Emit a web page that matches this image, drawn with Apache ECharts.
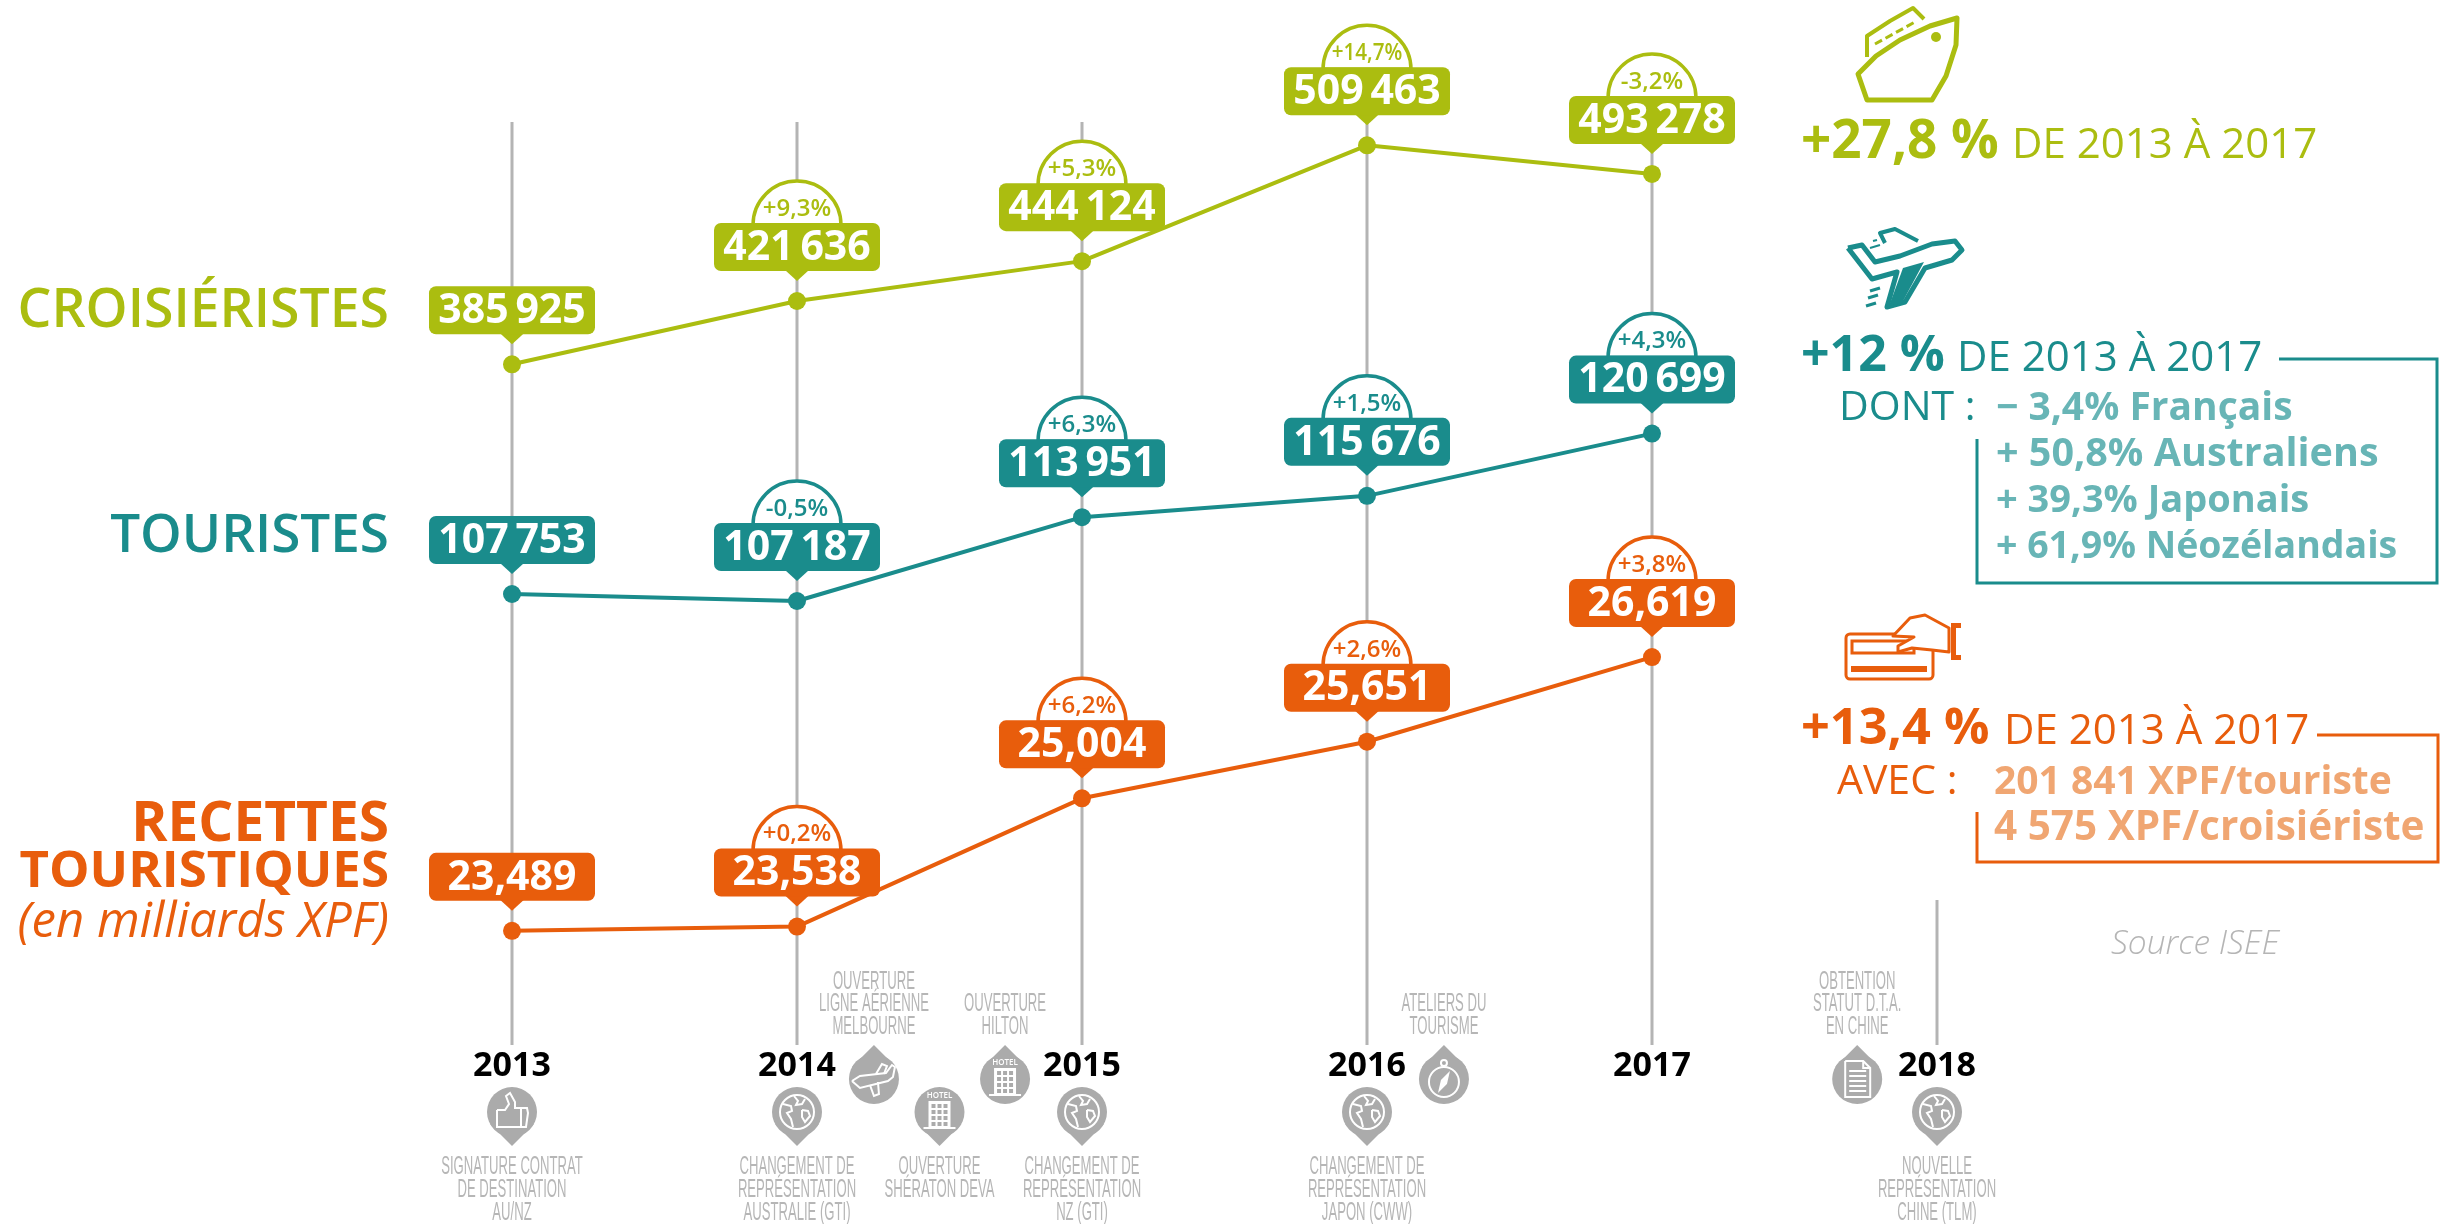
<!DOCTYPE html>
<html>
<head>
<meta charset="utf-8">
<title>Tourisme 2013-2017</title>
<script src="https://cdn.jsdelivr.net/npm/echarts@6/dist/echarts.min.js"></script>
<style>
  html, body { margin: 0; padding: 0; background: #fff; }
  #chart { width: 2443px; height: 1224px; }
</style>
</head>
<body>
<div id="chart"></div>
<script>
var years = ['2013', '2014', '2015', '2016', '2017', '2018'];

var cruiseValues = [385925, 421636, 444124, 509463, 493278];
var touristValues = [107753, 107187, 113951, 115676, 120699];
var revenueValues = [23.489, 23.538, 25.004, 25.651, 26.619];

var cruiseGrowth = [null, '+9,3%', '+5,3%', '+14,7%', '-3,2%'];
var touristGrowth = [null, '-0,5%', '+6,3%', '+1,5%', '+4,3%'];
var revenueGrowth = [null, '+0,2%', '+6,2%', '+2,6%', '+3,8%'];

var eventYears = [2013, 2014, 2014.27, 2014.5, 2014.73, 2015, 2016, 2016.27, 2017.72, 2018];
var eventTexts = [
  ['SIGNATURE CONTRAT', 'DE DESTINATION', 'AU/NZ'],
  ['CHANGEMENT DE', 'REPRÉSENTATION', 'AUSTRALIE (GTI)'],
  ['OUVERTURE', 'LIGNE AÉRIENNE', 'MELBOURNE'],
  ['OUVERTURE', 'SHÉRATON DEVA'],
  ['OUVERTURE', 'HILTON'],
  ['CHANGEMENT DE', 'REPRÉSENTATION', 'NZ (GTI)'],
  ['CHANGEMENT DE', 'REPRÉSENTATION', 'JAPON (CWW)'],
  ['ATELIERS DU', 'TOURISME'],
  ['OBTENTION', 'STATUT D.T.A.', 'EN CHINE'],
  ['NOUVELLE', 'REPRÉSENTATION', 'CHINE (TLM)']
];
var eventSides = ['below', 'below', 'above', 'below', 'above', 'below', 'below', 'above', 'above', 'below'];
var eventIcons = ['thumb', 'globe', 'plane', 'hotel', 'hotel', 'globe', 'globe', 'compass', 'doc', 'globe'];

var OLIVE = '#abbd10';
var TEAL = '#1a8c8c';
var ORANGE = '#e85d0c';
var LIGHT_TEAL = '#68b5b6';
var LIGHT_ORANGE = '#f0a672';
var SPINE = '#b4b4b4';
var PIN = '#ababab';
var PIN_TEXT = '#b6b6b6';
var FONT = "'Open Sans'";

// un axe caché par série, les trois courbes n'ont pas la même échelle
var cruiseAxis = { min: 2000, max: 522600 };
var touristAxis = { min: 71350, max: 145850 };
var revenueAxis = { min: 22.184, max: 32.736 };

function spaced(v) {
  return String(v).replace(/(\d)(\d{3})$/, '$1\u2009$2');
}
function comma(v) {
  return v.toFixed(3).replace('.', ',');
}

function badgeSeries(name, axisIndex, color, values, growth, format) {
  return {
    name: name + ' labels',
    type: 'custom',
    yAxisIndex: axisIndex,
    z: 5,
    silent: true,
    encode: { x: 0, y: 1 },
    data: values.map(function (v, i) { return [i, v]; }),
    renderItem: function (params, api) {
      var p = api.coord([api.value(0), api.value(1)]);
      var i = params.dataIndex;
      var x = p[0], y = p[1];
      var top = y - 78;
      var children = [];
      if (growth[i]) {
        children.push({
          type: 'sector',
          shape: { cx: x, cy: top + 2, r0: 0, r: 44, startAngle: Math.PI, endAngle: Math.PI * 2 },
          style: { fill: '#fff', stroke: color, lineWidth: 3.5 }
        });
        children.push({
          type: 'text', x: x, y: top - 14, scaleX: growth[i].length > 5 ? 0.86 : 1,
          style: { text: growth[i], font: '600 24px ' + FONT, fill: color, align: 'center', verticalAlign: 'middle' }
        });
      }
      children.push({
        type: 'polygon',
        shape: { points: [[x - 12, y - 31], [x + 12, y - 31], [x, y - 20]] },
        style: { fill: color }
      });
      children.push({
        type: 'rect',
        shape: { x: x - 83, y: top, width: 166, height: 48, r: 7 },
        style: { fill: color }
      });
      children.push({
        type: 'text', x: x, y: top + 25,
        style: { text: format(values[i]), font: '700 41px ' + FONT, fill: '#fff', align: 'center', verticalAlign: 'middle' }
      });
      return { type: 'group', children: children };
    }
  };
}

function lineSeries(name, axisIndex, color, values) {
  return {
    name: name,
    type: 'line',
    yAxisIndex: axisIndex,
    data: values,
    symbol: 'circle',
    symbolSize: 18,
    z: 4,
    silent: true,
    lineStyle: { color: color, width: 4 },
    itemStyle: { color: color }
  };
}

// petits pictos blancs des jalons, dessinés autour de (0,0)
function pinIcon(kind) {
  var w = { stroke: '#fff', lineWidth: 2, fill: 'none' };
  var f = { fill: '#fff' };
  function poly(pts) { return { type: 'polyline', shape: { points: pts }, style: w }; }
  function bar(x, y, ww, h) { return { type: 'rect', shape: { x: x, y: y, width: ww, height: h }, style: f }; }
  var list = [];
  if (kind === 'globe') {
    list.push({ type: 'circle', shape: { cx: 0, cy: 0, r: 17 }, style: w });
    list.push(poly([[-14, -8], [-6, -6], [-5, -1], [-10, 1], [-6, 7], [-4, 15]]));
    list.push(poly([[-3, -16], [1, -11], [-1, -7], [5, -8], [8, -13]]));
    list.push(poly([[5, -2], [11, -1], [13, 4], [8, 10], [5, 5], [5, -2]]));
  } else if (kind === 'thumb') {
    list.push(poly([[-15, -2], [-7, -2], [-3, -8], [-6, -16], [-2, -19], [3, -10], [3, -4], [15, -4], [16, 1], [14, 15], [-15, 15], [-15, -2]]));
    list.push(poly([[9, -4], [9, 15]]));
  } else if (kind === 'hotel') {
    list.push(bar(-11, -11, 22, 26));
    list.push(bar(-16, 15, 32, 2));
    list.push({ type: 'text', x: 0, y: -16, style: { text: 'HOTEL', font: '600 8px ' + FONT, fill: '#fff', align: 'center', verticalAlign: 'middle' } });
    for (var r = 0; r < 4; r++) {
      for (var c = 0; c < 3; c++) {
        list.push({ type: 'rect', shape: { x: -8 + c * 6, y: -8 + r * 6, width: 4, height: 4 }, style: { fill: PIN } });
      }
    }
  } else if (kind === 'plane') {
    list.push(poly([[-22, 2], [-14, -3], [12, -6], [18, -14], [21, -12], [19, -2], [14, 2], [-14, 9], [-22, 2]]));
    list.push(poly([[2, -5], [8, -15], [13, -13], [10, -5]]));
    list.push(poly([[-4, 6], [0, 17], [5, 15], [4, 3]]));
  } else if (kind === 'compass') {
    list.push({ type: 'circle', shape: { cx: 0, cy: 3, r: 15 }, style: w });
    list.push({ type: 'circle', shape: { cx: 0, cy: -16, r: 3 }, style: w });
    list.push({ type: 'polygon', shape: { points: [[6, -8], [3, 5], [-6, 14], [-3, 1]] }, style: f });
  } else if (kind === 'doc') {
    list.push(poly([[-12, -18], [6, -18], [13, -11], [13, 18], [-12, 18], [-12, -18]]));
    list.push(poly([[6, -18], [6, -11], [13, -11]]));
    for (var l = 0; l < 5; l++) {
      list.push(bar(-8, -9 + l * 5, 17, 2));
    }
  }
  return list;
}

function eventX(api, year) {
  var base = Math.floor(year);
  var x0 = api.coord([base - 2013, 100000])[0];
  if (year === base) return x0;
  var x1 = api.coord([base - 2012, 100000])[0];
  return x0 + (x1 - x0) * (year - base);
}

var spineSeries = {
  name: 'spines',
  type: 'custom',
  z: 1,
  silent: true,
  encode: { x: 0, y: 1 },
  data: years.map(function (y, i) { return [i, cruiseAxis.max]; }),
  renderItem: function (params, api) {
    var i = api.value(0);
    var top = api.coord([i, cruiseAxis.max]);
    var bottom = api.coord([i, cruiseAxis.min]);
    // 2018 n'a pas de donnée, la ligne est plus courte
    var y0 = i === 5 ? 900 : top[1];
    return {
      type: 'line',
      shape: { x1: top[0], y1: y0, x2: top[0], y2: bottom[1] },
      style: { stroke: SPINE, lineWidth: 3 }
    };
  }
};

var eventSeries = {
  name: 'events',
  type: 'custom',
  z: 2,
  silent: true,
  encode: { x: 0, y: 1 },
  data: eventYears.map(function (y) { return [Math.floor(y) - 2013, 100000]; }),
  renderItem: function (params, api) {
    var i = params.dataIndex;
    var x = eventX(api, eventYears[i]);
    var below = eventSides[i] === 'below';
    var cy = below ? 1112 : 1079;
    var dir = below ? 1 : -1;
    var children = [
      { type: 'circle', shape: { cx: x, cy: cy, r: 25 }, style: { fill: PIN } },
      {
        type: 'polygon',
        shape: { points: [[x - 22, cy + dir * 12], [x + 22, cy + dir * 12], [x, cy + dir * 34]] },
        style: { fill: PIN }
      },
      { type: 'group', x: x, y: cy, children: pinIcon(eventIcons[i]) }
    ];
    var lines = eventTexts[i];
    lines.forEach(function (t, k) {
      var ly = below ? 1167 + k * 22.7 : 1027 - (lines.length - 1 - k) * 22.7;
      children.push({
        type: 'text', x: x, y: ly, scaleX: 0.57, scaleY: 1.12,
        style: { text: t, font: "23px 'Liberation Sans'", fill: PIN_TEXT, align: 'center', verticalAlign: 'middle' }
      });
    });
    return { type: 'group', children: children };
  }
};

function txt(text, x, baseline, weight, size, color, align, style) {
  return {
    type: 'text',
    x: x,
    y: baseline - size * 0.31,
    silent: true,
    style: {
      text: text,
      font: (style ? style + ' ' : '') + weight + ' ' + size + 'px ' + FONT,
      fill: color,
      align: align || 'left',
      verticalAlign: 'middle'
    }
  };
}

function frame(points, color) {
  return { type: 'polyline', silent: true, shape: { points: points }, style: { stroke: color, lineWidth: 3, fill: 'none' } };
}
function outline(points, color, width, closed) {
  return {
    type: closed ? 'polygon' : 'polyline', silent: true,
    shape: { points: points },
    style: { stroke: color, lineWidth: width, fill: 'none', lineJoin: 'round' }
  };
}

var sideTexts = [
  txt('CROISIÉRISTES', 389, 328, 600, 53.5, OLIVE, 'right'),
  txt('TOURISTES', 389, 553, 600, 53, TEAL, 'right'),
  txt('RECETTES', 389, 842, 700, 55, ORANGE, 'right'),
  txt('TOURISTIQUES', 389, 888, 700, 51, ORANGE, 'right'),
  txt('(en milliards XPF)', 389, 938, 400, 49, ORANGE, 'right', 'italic'),

  txt('+27,8 %', 1801, 159, 700, 53, OLIVE),
  txt('DE 2013 À 2017', 2012, 159, 400, 42, OLIVE),

  txt('+12 %', 1801, 372, 700, 50, TEAL),
  txt('DE 2013 À 2017', 1957, 372, 400, 42, TEAL),
  txt('DONT :', 1839, 421, 400, 41, TEAL),
  txt('− 3,4% Français', 1996, 421, 700, 39, LIGHT_TEAL),
  txt('+ 50,8% Australiens', 1996, 467, 700, 39.5, LIGHT_TEAL),
  txt('+ 39,3% Japonais', 1996, 513, 700, 38, LIGHT_TEAL),
  txt('+ 61,9% Néozélandais', 1996, 559, 700, 37.5, LIGHT_TEAL),
  frame([[2279, 359], [2437, 359], [2437, 583], [1977, 583], [1977, 439]], TEAL),

  txt('+13,4 %', 1801, 745, 700, 50.5, ORANGE),
  txt('DE 2013 À 2017', 2004, 745, 400, 42, ORANGE),
  txt('AVEC :', 1837, 795, 400, 41, ORANGE),
  txt('201 841 XPF/touriste', 1994, 795, 700, 39, LIGHT_ORANGE),
  txt('4 575 XPF/croisiériste', 1994, 841, 700, 40.5, LIGHT_ORANGE),
  frame([[2317, 735], [2438, 735], [2438, 862], [1977, 862], [1977, 812]], ORANGE),

  txt('Source ISEE', 2111, 955, 300, 33.5, '#b5b5b5', 'left', 'italic'),

  // paquebot
  outline([[1858, 74], [1876, 56], [1900, 40], [1930, 26], [1957, 18], [1956, 45], [1946, 76], [1932, 100], [1867, 100]], OLIVE, 5, true),
  outline([[1867, 57], [1867, 36], [1890, 21], [1913, 8], [1924, 19]], OLIVE, 4),
  { type: 'polyline', silent: true, shape: { points: [[1875, 44], [1915, 22]] }, style: { stroke: OLIVE, lineWidth: 3, lineDash: [8, 4], fill: 'none' } },
  { type: 'circle', silent: true, shape: { cx: 1936, cy: 37, r: 5 }, style: { fill: OLIVE } },

  // avion
  outline([[1848, 248], [1862, 245], [1875, 262], [1900, 256], [1932, 244], [1955, 241], [1962, 250], [1952, 260], [1925, 268], [1905, 302], [1887, 307], [1897, 272], [1872, 279], [1848, 248]], TEAL, 5),
  { type: 'polygon', silent: true, shape: { points: [[1903, 268], [1924, 262], [1902, 303], [1889, 306]] }, style: { fill: TEAL } },
  outline([[1885, 243], [1880, 233], [1895, 229], [1918, 241]], TEAL, 4),
  outline([[1870, 248], [1880, 245]], TEAL, 2),
  outline([[1877, 240], [1873, 241]], TEAL, 2),
  outline([[1870, 291], [1880, 288]], TEAL, 3),
  outline([[1868, 298], [1878, 295]], TEAL, 3),
  outline([[1866, 306], [1876, 303]], TEAL, 3),

  // carte bancaire
  { type: 'rect', silent: true, shape: { x: 1846, y: 634, width: 87, height: 45, r: 4 }, style: { stroke: ORANGE, lineWidth: 3, fill: '#fff' } },
  { type: 'rect', silent: true, shape: { x: 1852, y: 641, width: 62, height: 12 }, style: { stroke: ORANGE, lineWidth: 3, fill: 'none' } },
  { type: 'rect', silent: true, shape: { x: 1851, y: 666, width: 76, height: 6 }, style: { fill: ORANGE } },
  { type: 'polygon', silent: true, shape: { points: [[1893, 636], [1910, 618], [1925, 615], [1949, 628], [1949, 652], [1932, 650], [1912, 648], [1898, 652], [1898, 646], [1914, 637]] }, style: { fill: '#fff', stroke: ORANGE, lineWidth: 3, lineJoin: 'round' } },
  { type: 'rect', silent: true, shape: { x: 1951, y: 623, width: 5, height: 37 }, style: { fill: ORANGE } },
  { type: 'rect', silent: true, shape: { x: 1951, y: 623, width: 10, height: 5 }, style: { fill: ORANGE } },
  { type: 'rect', silent: true, shape: { x: 1951, y: 655, width: 10, height: 5 }, style: { fill: ORANGE } }
];

var hiddenAxis = function (range) {
  return { type: 'value', show: false, scale: true, min: range.min, max: range.max, splitLine: { show: false } };
};

var chart = echarts.init(document.getElementById('chart'), null, { renderer: 'canvas' });

chart.setOption({
  backgroundColor: '#fff',
  animation: false,
  tooltip: { show: false },
  grid: { left: 512, width: 1425, top: 122, height: 923, containLabel: false },
  xAxis: {
    type: 'category',
    boundaryGap: false,
    data: years,
    axisLine: { show: false },
    axisTick: { show: false },
    splitLine: { show: false },
    axisLabel: { interval: 0, margin: 4, color: '#000', fontFamily: 'Open Sans', fontWeight: 700, fontSize: 34 }
  },
  yAxis: [hiddenAxis(cruiseAxis), hiddenAxis(touristAxis), hiddenAxis(revenueAxis)],
  graphic: { elements: sideTexts },
  series: [
    spineSeries,
    eventSeries,
    lineSeries('Croisiéristes', 0, OLIVE, cruiseValues),
    lineSeries('Touristes', 1, TEAL, touristValues),
    lineSeries('Recettes touristiques', 2, ORANGE, revenueValues),
    badgeSeries('Croisiéristes', 0, OLIVE, cruiseValues, cruiseGrowth, spaced),
    badgeSeries('Touristes', 1, TEAL, touristValues, touristGrowth, spaced),
    badgeSeries('Recettes', 2, ORANGE, revenueValues, revenueGrowth, comma)
  ]
});
</script>
</body>
</html>
